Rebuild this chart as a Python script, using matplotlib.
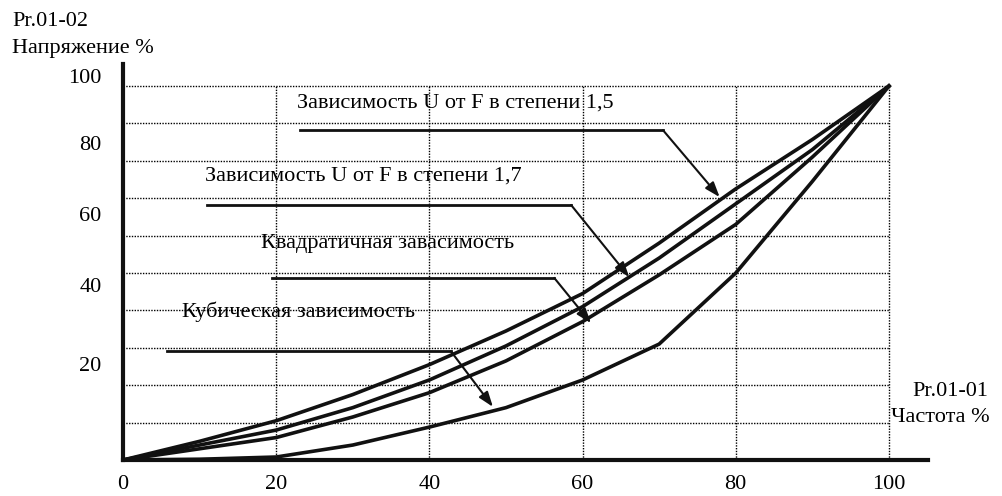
#!/usr/bin/env python3
"""
plot.py
U/F characteristic curves (voltage % vs frequency %) for several laws.
"""

import matplotlib
matplotlib.use("Agg")
import matplotlib.pyplot as plt

# ---- data ----------------------------------------------------------------
freq = [0, 10, 20, 30, 40, 50, 60, 70, 80, 90, 100]
u_pow15 = [0, 5.0, 10.5, 17.5, 25.5, 34.5, 44.5, 58.0, 72.5, 85.7, 100]
u_pow17 = [0, 4.0, 8.0, 14.0, 21.4, 30.5, 41.0, 54.0, 68.5, 83.0, 100]
u_square = [0, 3.0, 6.0, 11.5, 18.0, 26.5, 37.0, 49.5, 63.0, 81.0, 100]
u_cubic = [0, 0.2, 0.8, 4.0, 8.8, 14.0, 21.4, 31.0, 50.0, 74.5, 100]

x_ticks = [0, 20, 40, 60, 80, 100]
x_ticklabels = ["0", "20", "40", "60", "80", "100"]
y_ticklabels = ["20", "40", "60", "80", "100"]
y_label_pos = [25, 46, 65, 84, 102]   # labels sit a bit above their gridlines

grid_h = [10, 20, 30, 40, 50, 60, 70, 80, 90, 100]
grid_v = [20, 40, 60, 80, 100]

labels = ["Зависимость U от F в степени 1,5",
          "Зависимость U от F в степени 1,7",
          "Квадратичная завасимость",
          "Кубическая зависимость"]
# text anchor, leader start, leader corner, arrow tip (data coords)
label_xy = [(22.7, 95.5), (10.7, 75.9), (18.0, 57.8), (7.7, 39.6)]
leader_start = [(23.1, 88.2), (11.0, 68.2), (19.5, 48.7), (5.7, 29.1)]
leader_corner = [(70.5, 88.2), (58.5, 68.2), (56.3, 48.7), (42.8, 29.1)]
arrow_tip = [(77.9, 70.3), (66.1, 48.9), (61.1, 36.6), (48.3, 14.2)]

FONT = "Liberation Serif"
FS = 16


def main():
    fig = plt.figure(figsize=(10.03, 4.96), dpi=100)
    # x 0..100 -> px 123..889, y 0..100 -> px 460..86
    ax = fig.add_axes([123 / 1003, 36 / 496, 805 / 1003, 396.4 / 496])
    ax.set_xlim(0, 105.1)
    ax.set_ylim(0, 106)

    # dotted grid, only inside 0..100
    ax.hlines(grid_h, 0, 100, colors="black", linestyles=(0, (1, 1)), lw=1.0, zorder=1)
    ax.vlines(grid_v, 0, 100, colors="black", linestyles=(0, (1, 1)), lw=1.0, zorder=1)

    for ys in (u_pow15, u_pow17, u_square, u_cubic):
        ax.plot(freq, ys, color="#111111", lw=2.6, solid_joinstyle="round", zorder=3)

    for i in range(len(labels)):
        ax.text(label_xy[i][0], label_xy[i][1], labels[i], family=FONT,
                fontsize=FS, ha="left", va="center", zorder=4)
        ax.plot([leader_start[i][0], leader_corner[i][0]],
                [leader_start[i][1], leader_corner[i][1]],
                color="#111111", lw=2.0, zorder=4)
        ax.annotate("", xy=arrow_tip[i], xytext=leader_corner[i],
                    arrowprops=dict(arrowstyle="-|>,head_length=0.9,head_width=0.32",
                                    color="#111111", lw=1.5,
                                    shrinkA=0, shrinkB=0), zorder=4)

    for s in ("top", "right"):
        ax.spines[s].set_visible(False)
    for s in ("left", "bottom"):
        ax.spines[s].set_linewidth(3.0)
        ax.spines[s].set_color("#111111")

    ax.set_xticks(x_ticks)
    ax.set_xticklabels(x_ticklabels, family=FONT, fontsize=FS)
    ax.tick_params(axis="x", length=0, pad=11)
    ax.set_yticks([])
    for lab, yp in zip(y_ticklabels, y_label_pos):
        ax.text(-2.8, yp, lab, family=FONT, fontsize=FS, ha="right", va="center")

    fig.text(12 / 1003, 1 - 21 / 496, "Pr.01-02", family=FONT, fontsize=FS,
             ha="left", va="center")
    fig.text(12 / 1003, 1 - 49 / 496, "Напряжение %", family=FONT, fontsize=FS,
             ha="left", va="center")
    fig.text(988 / 1003, 1 - 392 / 496, "Pr.01-01", family=FONT, fontsize=FS,
             ha="right", va="center")
    fig.text(990 / 1003, 1 - 418 / 496, "Частота %", family=FONT, fontsize=FS,
             ha="right", va="center")

    fig.savefig("out.png", dpi=100)


if __name__ == "__main__":
    main()
